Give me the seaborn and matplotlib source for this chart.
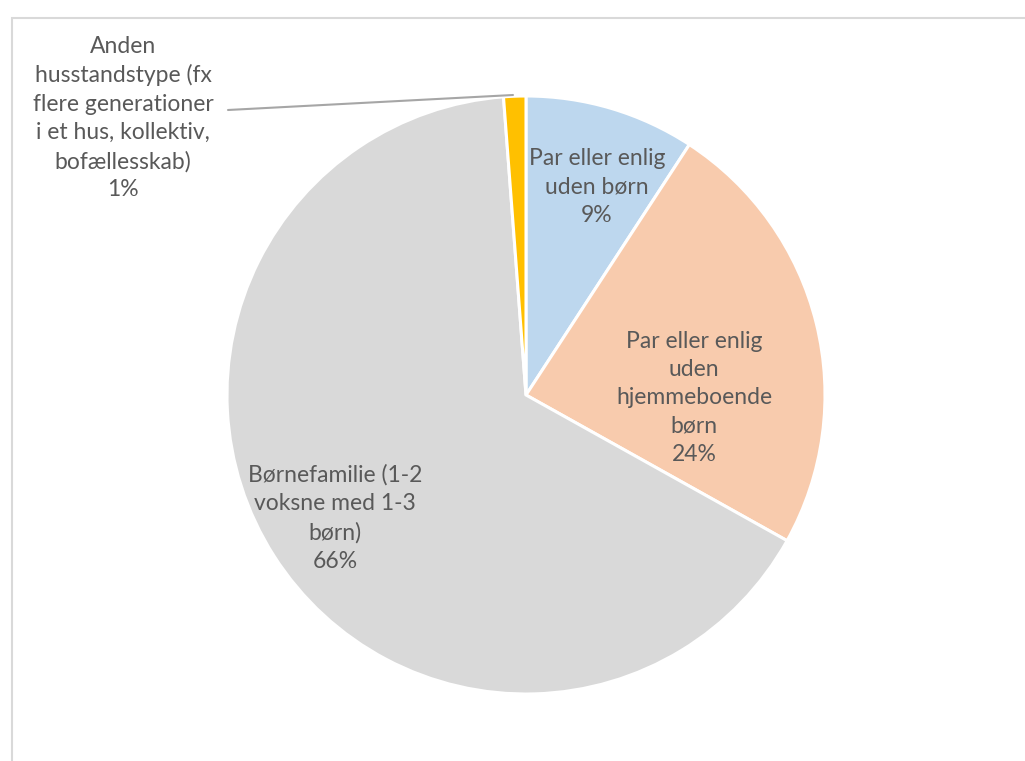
import matplotlib
matplotlib.use("Agg")
import matplotlib.pyplot as plt
from matplotlib.patches import Rectangle
import seaborn as sns

# Household types, clockwise from 12 o'clock
categories = [
    "Par eller enlig\nuden børn",
    "Par eller enlig\nuden\nhjemmeboende\nbørn",
    "Børnefamilie (1-2\nvoksne med 1-3\nbørn)",
    "Anden\nhusstandstype (fx\nflere generationer\ni et hus, kollektiv,\nbofællesskab)",
]
shares = [9.2, 23.9, 65.7, 1.2]
colors = ["#BDD7EE", "#F8CBAD", "#D9D9D9", "#FFC000"]

sns.set_theme(style="white")
plt.rcParams["font.family"] = ["Lato", "DejaVu Sans"]

W, H = 1025, 761
fig = plt.figure(figsize=(W / 100, H / 100), dpi=100)
fig.patch.set_facecolor("white")

# chart-area frame (open at right and bottom)
fig.patches.append(Rectangle((12 / W, -0.1), 1.2, (H - 18) / H + 0.1,
                             transform=fig.transFigure, fill=False,
                             edgecolor="#D9D9D9", linewidth=1.5))

cx, cy, r = 526, 395, 299
ax = fig.add_axes([(cx - r) / W, (H - cy - r) / H, 2 * r / W, 2 * r / H])
wedges, _ = ax.pie(shares, colors=colors, startangle=90, counterclock=False,
                   radius=1.0,
                   wedgeprops=dict(edgecolor="white", linewidth=2.2))
ax.set_xlim(-1, 1)
ax.set_ylim(-1, 1)
ax.set_aspect("auto")
ax.axis("off")

def px(x, y):
    return (x - cx) / r, (cy - y) / r

labels = [f"{c}\n{round(s):.0f}%" for c, s in zip(categories, shares)]
label_px = [(597, 187), (694, 398), (335, 518), (123, 118)]
txt = dict(ha="center", va="center", color="#595959", fontsize=16.5,
           linespacing=1.43)
for lab, (lx, ly) in zip(labels, label_px):
    x, y = px(lx, ly)
    ax.text(x, y, lab, clip_on=False, **txt)

# leader line for the smallest slice
x0, y0 = px(228, 110)
x1, y1 = px(513, 95)
ax.plot([x0, x1], [y0, y1], color="#A6A6A6", linewidth=1.5, clip_on=False)

fig.savefig("out.png", dpi=100, facecolor="white")
